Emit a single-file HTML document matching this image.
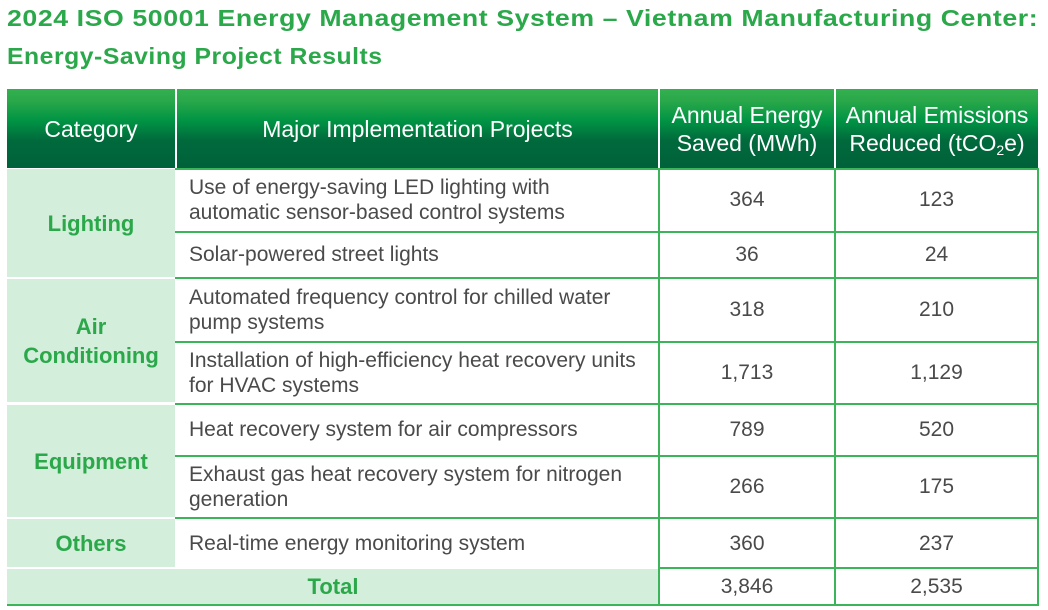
<!DOCTYPE html>
<html><head><meta charset="utf-8"><style>
body{margin:0;width:1048px;height:610px;background:#fff;position:relative;overflow:hidden;font-family:"Liberation Sans",Arial,sans-serif}
.t{position:absolute;left:7px;color:#2aa84a;font-weight:bold;font-size:23px;letter-spacing:0.5px;white-space:nowrap;transform-origin:0 0}
.a{position:absolute;box-sizing:border-box}
.h{background:linear-gradient(#33b04f 0%,#2aa84a 15%,#009444 40%,#006a3c 65%,#00613a 100%);color:#fff;font-size:23px;display:flex;align-items:center;justify-content:center;text-align:center;line-height:28px;white-space:nowrap}
.c{background:#d3eedb;color:#2aa84a;font-weight:bold;font-size:22px;display:flex;align-items:center;justify-content:center;text-align:center;line-height:29px}
.p{color:#4a4a4a;font-size:21px;line-height:25px;display:flex;align-items:center;padding-left:14px;white-space:nowrap}
.n{color:#4a4a4a;font-size:21px;display:flex;align-items:center;justify-content:center}
.hl{position:absolute;height:1.5px;background:#3cb55a}
.vl{position:absolute;width:1.5px;background:#3cb55a}
sub{font-size:14px;line-height:0;vertical-align:-4px}
</style></head><body>
<div class="t" style="top:5px;transform:scaleX(1.16)">2024 ISO 50001 Energy Management System – Vietnam Manufacturing Center:</div>
<div class="t" style="top:43px;transform:scaleX(1.075)">Energy-Saving Project Results</div>

<div class="a h" style="left:7px;top:89px;width:168px;height:79px"><span>Category</span></div>
<div class="a h" style="left:177px;top:89px;width:481px;height:79px"><span>Major Implementation Projects</span></div>
<div class="a h" style="left:660px;top:89px;width:174px;height:79px"><span>Annual Energy<br>Saved (MWh)</span></div>
<div class="a h" style="left:836px;top:89px;width:202px;height:79px"><span>Annual Emissions<br>Reduced (tCO<sub>2</sub>e)</span></div>

<div class="a c" style="left:7px;top:169px;width:168px;height:108px">Lighting</div>
<div class="a c" style="left:7px;top:279px;width:168px;height:123px"><span>Air<br>Conditioning</span></div>
<div class="a c" style="left:7px;top:405px;width:168px;height:112px">Equipment</div>
<div class="a c" style="left:7px;top:519px;width:168px;height:48px">Others</div>
<div class="a c" style="left:7px;top:569px;width:652px;height:35px"><span style="position:absolute;left:0;width:652px;text-align:center">Total</span></div>

<div class="a p" style="left:175px;top:169px;width:484px;height:62px"><span>Use of energy-saving LED lighting with<br>automatic sensor-based control systems</span></div>
<div class="a n" style="left:659px;top:169px;width:176px;height:62px">364</div>
<div class="a n" style="left:835px;top:169px;width:203px;height:62px">123</div>

<div class="a p" style="left:175px;top:232px;width:484px;height:45px">Solar-powered street lights</div>
<div class="a n" style="left:659px;top:232px;width:176px;height:45px">36</div>
<div class="a n" style="left:835px;top:232px;width:203px;height:45px">24</div>

<div class="a p" style="left:175px;top:278px;width:484px;height:63px"><span>Automated frequency control for chilled water<br>pump systems</span></div>
<div class="a n" style="left:659px;top:278px;width:176px;height:63px">318</div>
<div class="a n" style="left:835px;top:278px;width:203px;height:63px">210</div>

<div class="a p" style="left:175px;top:342px;width:484px;height:61px"><span>Installation of high-efficiency heat recovery units<br>for HVAC systems</span></div>
<div class="a n" style="left:659px;top:342px;width:176px;height:61px">1,713</div>
<div class="a n" style="left:835px;top:342px;width:203px;height:61px">1,129</div>

<div class="a p" style="left:175px;top:404px;width:484px;height:51px">Heat recovery system for air compressors</div>
<div class="a n" style="left:659px;top:404px;width:176px;height:51px">789</div>
<div class="a n" style="left:835px;top:404px;width:203px;height:51px">520</div>

<div class="a p" style="left:175px;top:456px;width:484px;height:62px"><span>Exhaust gas heat recovery system for nitrogen<br>generation</span></div>
<div class="a n" style="left:659px;top:456px;width:176px;height:62px">266</div>
<div class="a n" style="left:835px;top:456px;width:203px;height:62px">175</div>

<div class="a p" style="left:175px;top:519px;width:484px;height:49px">Real-time energy monitoring system</div>
<div class="a n" style="left:659px;top:519px;width:176px;height:49px">360</div>
<div class="a n" style="left:835px;top:519px;width:203px;height:49px">237</div>

<div class="a n" style="left:659px;top:569px;width:176px;height:35px">3,846</div>
<div class="a n" style="left:835px;top:569px;width:203px;height:35px">2,535</div>

<div class="hl" style="left:175px;top:168px;width:864px"></div>
<div class="hl" style="left:175px;top:231px;width:864px"></div>
<div class="hl" style="left:175px;top:277px;width:864px"></div>
<div class="hl" style="left:175px;top:341px;width:864px"></div>
<div class="hl" style="left:175px;top:403px;width:864px"></div>
<div class="hl" style="left:175px;top:455px;width:864px"></div>
<div class="hl" style="left:175px;top:517px;width:864px"></div>
<div class="hl" style="left:659px;top:567px;width:380px"></div>
<div class="hl" style="left:7px;top:604px;width:1032px"></div>
<div class="vl" style="left:658px;top:168px;height:437px"></div>
<div class="vl" style="left:834px;top:168px;height:437px"></div>
<div class="vl" style="left:1037px;top:168px;height:437px"></div>
</body></html>
